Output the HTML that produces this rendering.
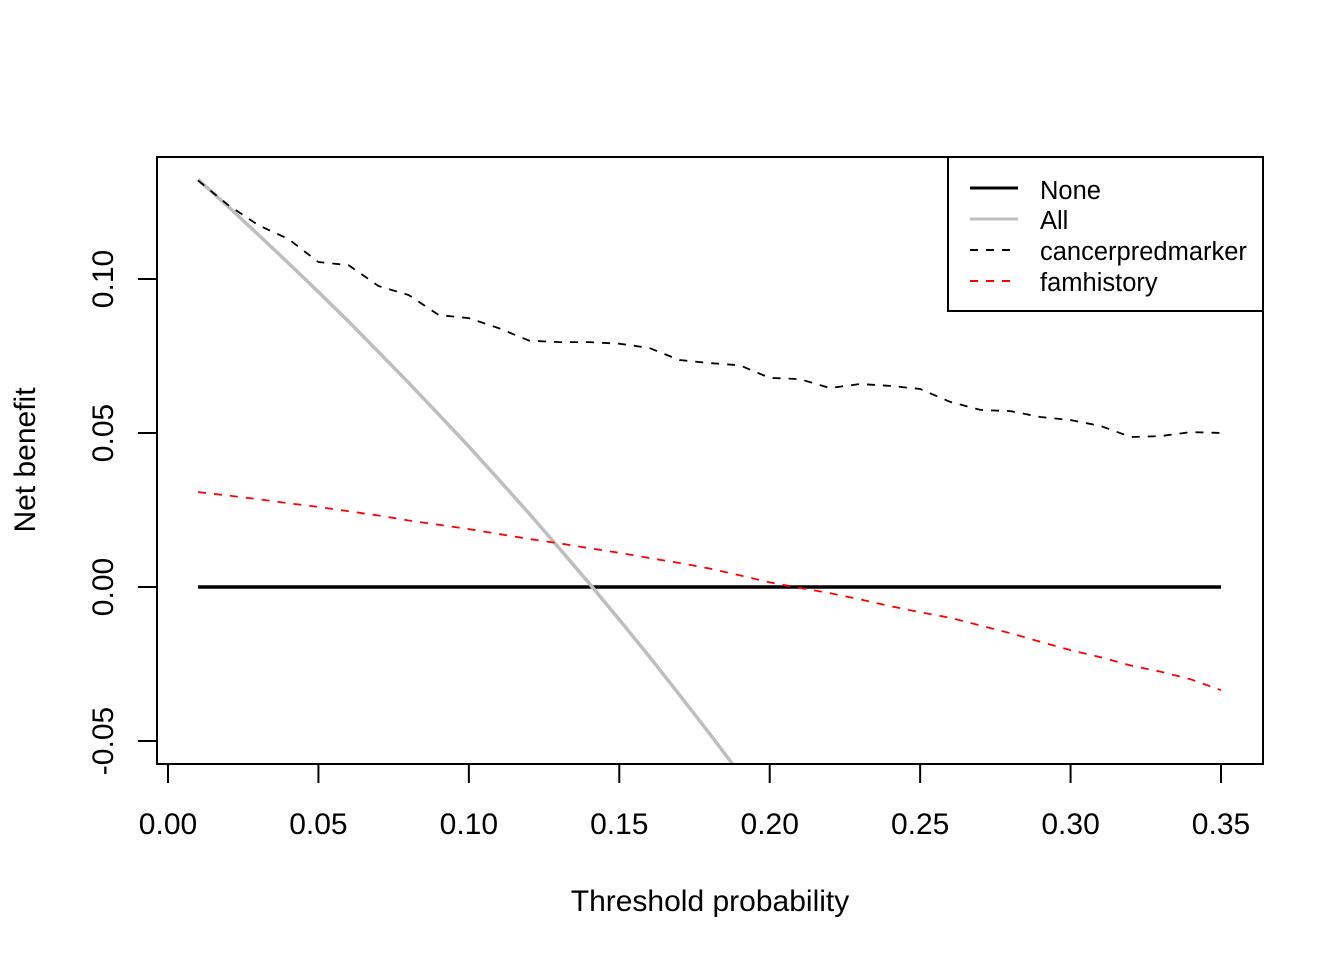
<!DOCTYPE html>
<html><head><meta charset="utf-8"><style>
html,body{margin:0;background:#fff;overflow:hidden;width:1344px;height:960px}
svg{display:block}
svg text{font-family:"Liberation Sans",Arial,sans-serif;fill:#000}
</style></head><body>
<svg id="chart" width="1344" height="960" viewBox="0 0 1344 960" xmlns="http://www.w3.org/2000/svg">
<defs><clipPath id="clip"><rect x="157" y="157" width="1106" height="607"/></clipPath></defs>
<g id="marks" clip-path="url(#clip)"></g>
<rect x="157" y="157" width="1106" height="607" fill="none" stroke="#000" stroke-width="2"/>
<g id="axes"></g>
<text x="710" y="911" font-size="30" text-anchor="middle">Threshold probability</text>
<text transform="translate(35,460) rotate(-90)" font-size="30" text-anchor="middle">Net benefit</text>
<g>
<rect x="948" y="157" width="315" height="154" fill="#fff" stroke="#000" stroke-width="2"/>
<line x1="970" x2="1018" y1="188" y2="188" stroke="#000" stroke-width="3"/>
<text x="1040" y="199" font-size="25.5">None</text>
<line x1="970" x2="1018" y1="219" y2="219" stroke="#bebebe" stroke-width="3"/>
<text x="1040" y="229" font-size="25.5">All</text>
<line x1="970" x2="1018" y1="250" y2="250" stroke="#000" stroke-width="2" stroke-dasharray="8,8"/>
<text x="1040" y="260" font-size="25.5">cancerpredmarker</text>
<line x1="970" x2="1018" y1="281" y2="281" stroke="#f00" stroke-width="2" stroke-dasharray="8,8"/>
<text x="1040" y="291" font-size="25.5">famhistory</text>
</g>
</svg>
<script>
const thresholds=[0.01,0.02,0.03,0.04,0.05,0.06,0.07,0.08,0.09,0.10,0.11,0.12,0.13,0.14,0.15,0.16,0.17,0.18,0.19,0.20,0.21,0.22,0.23,0.24,0.25,0.26,0.27,0.28,0.29,0.30,0.31,0.32,0.33,0.34,0.35];
const noneValues=thresholds.map(()=>0);
const allValues=[0.1323,0.1235,0.1144,0.1052,0.0958,0.0862,0.0763,0.0663,0.0560,0.0456,0.0348,0.0239,0.0126,0.0012,-0.0106,-0.0226,-0.0350,-0.0476,-0.0605,-0.0738,-0.087,-0.101,-0.115,-0.130,-0.145,-0.161,-0.177,-0.193,-0.210,-0.227,-0.245,-0.263,-0.282,-0.301,-0.3215];
const cancerValues=[0.132,0.124,0.1175,0.113,0.1055,0.1045,0.0977,0.0948,0.0883,0.0873,0.084,0.080,0.0795,0.0795,0.079,0.0776,0.0737,0.0727,0.072,0.0679,0.0675,0.0646,0.0659,0.0653,0.0643,0.0601,0.0575,0.0571,0.0552,0.0542,0.0523,0.0487,0.049,0.0503,0.050];
const famValues=[0.0308,0.0297,0.0285,0.0272,0.0260,0.0246,0.0232,0.0216,0.0202,0.0188,0.0172,0.0156,0.0142,0.0126,0.0111,0.0094,0.0078,0.0060,0.0038,0.0015,-0.0003,-0.0020,-0.0040,-0.0062,-0.0082,-0.0100,-0.0125,-0.0150,-0.0178,-0.0205,-0.0228,-0.0255,-0.0275,-0.0300,-0.0335];
const xTicks=[0,0.05,0.10,0.15,0.20,0.25,0.30,0.35];
const xTickLabels=["0.00","0.05","0.10","0.15","0.20","0.25","0.30","0.35"];
const yTicks=[-0.05,0,0.05,0.10];
const yTickLabels=["-0.05","0.00","0.05","0.10"];
const NS="http://www.w3.org/2000/svg";
const X=v=>168+(1221-168)*v/0.35;
const Y=v=>587-v*3080;
const marks=document.getElementById('marks'),axes=document.getElementById('axes');
function line(vals,color,w,dash,name){
  const p=document.createElementNS(NS,'polyline');
  p.setAttribute('points',vals.map((v,i)=>X(thresholds[i])+','+Y(v)).join(' '));
  p.setAttribute('fill','none');p.setAttribute('stroke',color);p.setAttribute('stroke-width',w);
  if(dash)p.setAttribute('stroke-dasharray',dash);
  
  
  marks.appendChild(p);
}
line(noneValues,'#000',3.5,null,'series-none');
line(allValues,'#bebebe',3.5,null,'series-all');
line(cancerValues,'#000',1.8,'8,8','series-cancerpredmarker');
line(famValues,'#f00',1.8,'8,8','series-famhistory');
xTicks.forEach((t,i)=>{
  const l=document.createElementNS(NS,'line');
  l.setAttribute('x1',X(t));l.setAttribute('x2',X(t));l.setAttribute('y1',764);l.setAttribute('y2',783);
  l.setAttribute('stroke','#000');l.setAttribute('stroke-width',2);
  
  
  axes.appendChild(l);
  const tx=document.createElementNS(NS,'text');
  tx.setAttribute('x',X(t));tx.setAttribute('y',834);tx.setAttribute('font-size',30);tx.setAttribute('text-anchor','middle');
  tx.textContent=xTickLabels[i];
  
  
  axes.appendChild(tx);
});
yTicks.forEach((t,i)=>{
  const l=document.createElementNS(NS,'line');
  l.setAttribute('x1',138);l.setAttribute('x2',157);l.setAttribute('y1',Y(t));l.setAttribute('y2',Y(t));
  l.setAttribute('stroke','#000');l.setAttribute('stroke-width',2);
  
  
  axes.appendChild(l);
  const tx=document.createElementNS(NS,'text');
  tx.setAttribute('transform','translate(113,'+Y(t)+') rotate(-90)');
  tx.setAttribute('font-size',30);tx.setAttribute('text-anchor','middle');
  tx.textContent=yTickLabels[i];
  
  
  axes.appendChild(tx);
});
</script>
</body></html>
